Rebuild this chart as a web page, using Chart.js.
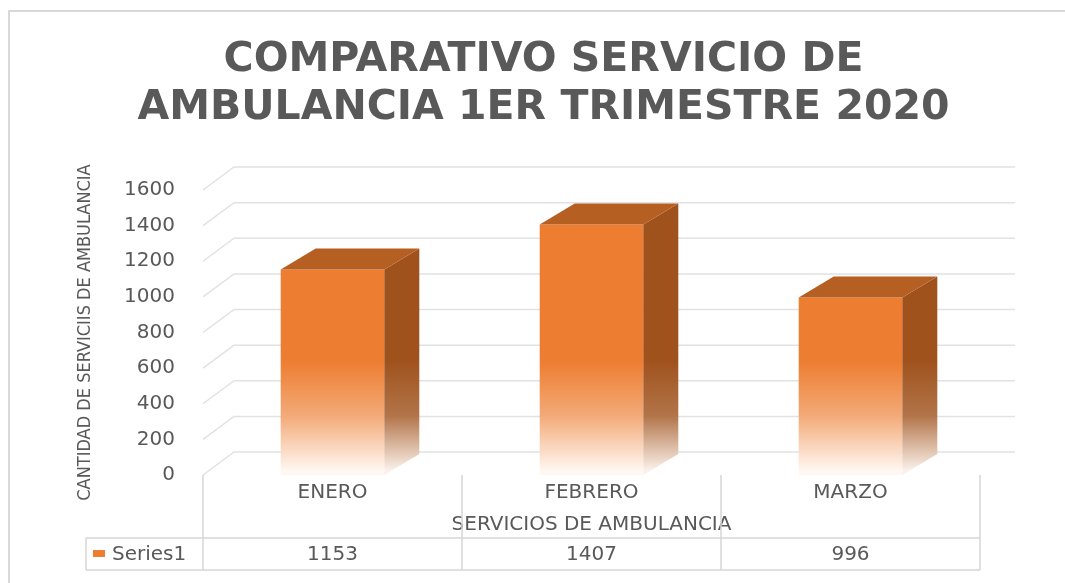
<!DOCTYPE html>
<html><head><meta charset="utf-8">
<script src="https://cdn.jsdelivr.net/npm/chart.js@4"></script>
<style>html,body{margin:0;padding:0;background:#fff;}#wrap{width:1065px;height:583px;position:relative;}</style>
</head><body><div id="wrap"><canvas id="c" width="1065" height="583"></canvas></div>
<script>
const categories = ['ENERO', 'FEBRERO', 'MARZO'];
const seriesName = 'Series1';
const seriesValues = [1153, 1407, 996];
const yTicks = [0, 200, 400, 600, 800, 1000, 1200, 1400, 1600];
const titleLines = ['COMPARATIVO SERVICIO DE', 'AMBULANCIA 1ER TRIMESTRE 2020'];
const yTitle = 'CANTIDAD DE SERVICIIS DE AMBULANCIA';
const xTitle = 'SERVICIOS DE AMBULANCIA';

const TEXT = '#595959';
const ORANGE = '#ED7D31';
const BASE_FONT = "'DejaVu Sans', 'Liberation Sans', sans-serif";
const DX = 35, DY = -21;       // bar depth
const GDX = 31, GDY = -23;     // wall depth
const FADE_TOP = 640, FADE_BOTTOM = 25;

function frontGradient(chart, c0, c1, c2) {
  const y = chart.scales.y;
  const g = chart.ctx.createLinearGradient(0, y.getPixelForValue(FADE_TOP), 0, y.getPixelForValue(FADE_BOTTOM));
  g.addColorStop(0, c0); g.addColorStop(0.5, c1); g.addColorStop(1, c2);
  return g;
}

const frame = {
  id: 'frame',
  beforeDraw(chart) {
    const ctx = chart.ctx;
    ctx.save();
    ctx.fillStyle = '#fff';
    ctx.fillRect(0, 0, chart.width, chart.height);
    ctx.strokeStyle = '#d9d9d9'; ctx.lineWidth = 2;
    ctx.beginPath(); ctx.moveTo(9, chart.height); ctx.lineTo(9, 11); ctx.lineTo(chart.width, 11); ctx.stroke();
    ctx.restore();
  }
};

const bar3d = {
  id: 'bar3d',
  beforeDatasetsDraw(chart) {
    const {ctx, chartArea: a, scales: {y}} = chart;
    ctx.save();
    ctx.strokeStyle = '#e2e2e2'; ctx.lineWidth = 1.5;
    y.ticks.forEach(t => {
      const py = y.getPixelForValue(t.value);
      ctx.beginPath();
      ctx.moveTo(a.left, py);
      ctx.lineTo(a.left + GDX, py + GDY);
      ctx.lineTo(a.right + GDX + 4, py + GDY);
      ctx.stroke();
    });
    ctx.restore();
  },
  afterDatasetsDraw(chart) {
    const ctx = chart.ctx;
    const meta = chart.getDatasetMeta(0);
    ctx.save();
    meta.data.forEach(bar => {
      const p = bar.getProps(['x', 'y', 'base', 'width'], true);
      const l = p.x - p.width / 2, r = p.x + p.width / 2;
      ctx.fillStyle = frontGradient(chart, '#A0521D', '#B27449', '#FBF1EA');
      ctx.beginPath();
      ctx.moveTo(r, p.y); ctx.lineTo(r + DX, p.y + DY); ctx.lineTo(r + DX, p.base + DY); ctx.lineTo(r, p.base);
      ctx.closePath(); ctx.fill();
      ctx.fillStyle = '#B65F22';
      ctx.beginPath();
      ctx.moveTo(l, p.y); ctx.lineTo(l + DX, p.y + DY); ctx.lineTo(r + DX, p.y + DY); ctx.lineTo(r, p.y);
      ctx.closePath(); ctx.fill();
    });
    ctx.restore();
  }
};

const dataTable = {
  id: 'dataTable',
  afterDraw(chart) {
    const {ctx, chartArea: a, scales: {x}} = chart;
    const n = categories.length;
    const colW = (a.right - a.left) / n;
    const TL = 86, RT = 538, RB = 570;
    ctx.save();
    ctx.strokeStyle = '#d6d6d6'; ctx.lineWidth = 1.5;
    ctx.beginPath();
    for (let i = 0; i <= n; i++) {
      const px = a.left + i * colW;
      ctx.moveTo(px, a.bottom); ctx.lineTo(px, RB);
    }
    ctx.moveTo(TL, RT); ctx.lineTo(a.right, RT);
    ctx.moveTo(TL, RB); ctx.lineTo(a.right, RB);
    ctx.moveTo(TL, RT); ctx.lineTo(TL, RB);
    ctx.stroke();
    ctx.font = '20px ' + BASE_FONT;
    ctx.fillStyle = TEXT; ctx.textBaseline = 'middle';
    ctx.textAlign = 'center';
    chart.data.datasets[0].data.forEach((v, i) => {
      ctx.fillText(String(v), x.getPixelForValue(i), (RT + RB) / 2 + 1);
    });
    ctx.textAlign = 'left';
    ctx.fillText(chart.data.datasets[0].label, 112, (RT + RB) / 2 + 1);
    ctx.fillStyle = ORANGE;
    ctx.fillRect(93, 550, 12, 7);
    ctx.restore();
  }
};

new Chart(document.getElementById('c'), {
  type: 'bar',
  data: {
    labels: categories,
    datasets: [{
      label: seriesName,
      data: seriesValues,
      backgroundColor: (c) => c.chart.chartArea ? frontGradient(c.chart, ORANGE, '#F3AA78', '#FFF7F1') : ORANGE,
      borderWidth: 0,
      categoryPercentage: 1,
      barPercentage: 0.4
    }]
  },
  options: {
    responsive: false,
    devicePixelRatio: 1,
    animation: false,
    layout: {padding: {left: 22, right: 0, top: 0, bottom: 0}},
    plugins: {
      legend: {display: false},
      tooltip: {enabled: false},
      title: {
        display: true,
        text: titleLines,
        color: TEXT,
        font: {family: BASE_FONT, size: 41, weight: 'bold', lineHeight: 48 / 41},
        padding: {top: 36, bottom: 58}
      }
    },
    scales: {
      x: {
        grid: {display: false, drawTicks: false},
        border: {display: false},
        ticks: {color: TEXT, font: {family: BASE_FONT, size: 20}, padding: 6, maxRotation: 0},
        title: {display: true, text: xTitle, color: TEXT, font: {family: BASE_FONT, size: 20}, padding: {top: 0, bottom: 46}},
        afterFit(s) { s.height = 108; }
      },
      y: {
        min: 0, max: 1600,
        grid: {display: false, drawTicks: false},
        border: {display: false},
        ticks: {color: TEXT, font: {family: BASE_FONT, size: 20}, padding: 28, callback: (v) => String(v)},
        afterBuildTicks(s) { s.ticks = yTicks.map(v => ({value: v})); },
        title: {display: true, text: yTitle, color: TEXT,
          font: {family: "'Liberation Sans Narrow', 'DejaVu Sans Condensed', 'Liberation Sans', sans-serif", size: 18},
          padding: {top: 53, bottom: 0}},
        afterFit(s) { s.width = 181; }
      },
      y2: {
        position: 'right',
        display: true,
        grid: {display: false, drawTicks: false},
        border: {display: false},
        ticks: {display: false},
        afterFit(s) { s.width = 85; }
      }
    }
  },
  plugins: [frame, bar3d, dataTable]
});
</script></body></html>
